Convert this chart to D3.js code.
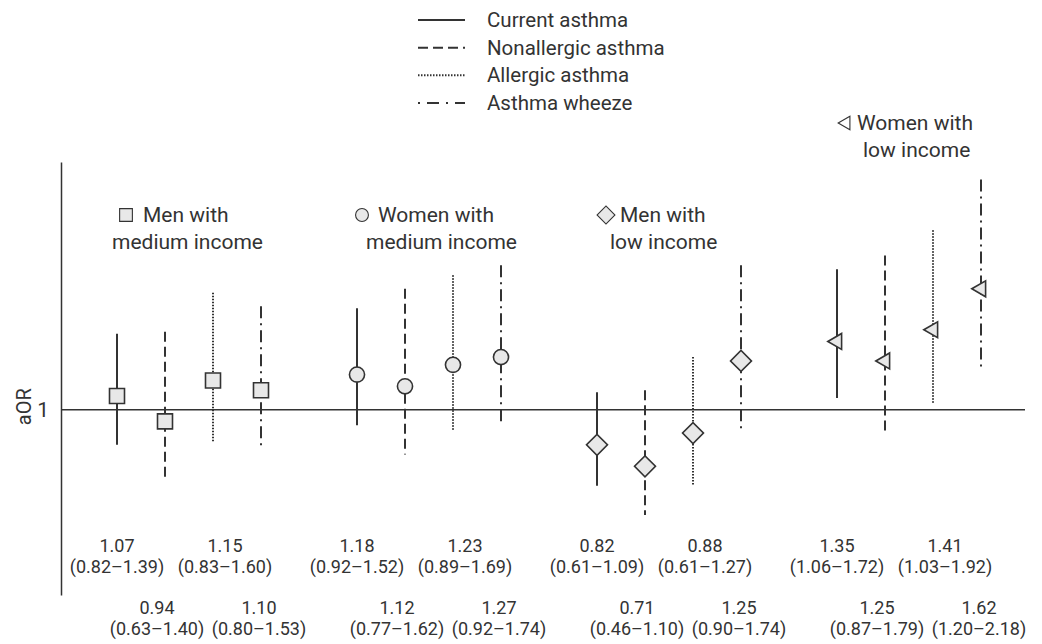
<!DOCTYPE html>
<html>
<head>
<meta charset="utf-8">
<script src="https://cdn.jsdelivr.net/npm/d3@7"></script>
<style>
  body { margin: 0; background: #fff; }
  text { font-family: Roboto, "Noto Sans", sans-serif; fill: #333; }
</style>
</head>
<body>
<div id="chart"></div>
<script>
// groups (income x sex) and outcomes
const groupLine1 = ["Men with", "Women with", "Men with", "Women with"];
const groupLine2 = ["medium income", "medium income", "low income", "low income"];
const groupShapes = ["square", "circle", "diamond", "triangle"];
const outcomes = ["Current asthma", "Nonallergic asthma", "Allergic asthma", "Asthma wheeze"];

// aOR and 95% CI, one row per group, outcome order as above
const aor    = [[1.07, 0.94, 1.15, 1.10], [1.18, 1.12, 1.23, 1.27], [0.82, 0.71, 0.88, 1.25], [1.35, 1.25, 1.41, 1.62]];
const ciLow  = [[0.82, 0.63, 0.83, 0.80], [0.92, 0.77, 0.89, 0.92], [0.61, 0.46, 0.61, 0.90], [1.06, 0.87, 1.03, 1.20]];
const ciHigh = [[1.39, 1.40, 1.60, 1.53], [1.52, 1.62, 1.69, 1.74], [1.09, 1.10, 1.27, 1.74], [1.72, 1.79, 1.92, 2.18]];
const yTicks = [1];

const width = 1042, height = 644;

const svg = d3.select("#chart")
  .append("svg")
  .attr("width", width)
  .attr("height", height);

// flatten to one row per estimate
const rows = [];
aor.forEach((g, gi) => g.forEach((v, si) => {
  rows.push({g: gi, s: si, i: gi * 5 + si, v: v, lo: ciLow[gi][si], hi: ciHigh[gi][si]});
}));

// scales
const x = d3.scaleLinear().domain([0, 18]).range([117, 981]);
const y = d3.scaleLinear().domain([0.05, 2.27]).range([595, 162]);

const ink = "#333";
const dashes = [null, "10,5", "1.5,1.5", "12,5,2,5"];
const widths = [2, 2, 2, 2];

// y axis
const yAxis = svg.append("g")
  .attr("transform", "translate(61,0)")
  .call(d3.axisLeft(y).tickValues(yTicks).tickSize(0).tickSizeOuter(0).tickPadding(12).tickFormat(d3.format("d")));
yAxis.select(".domain").attr("stroke", ink).attr("stroke-width", 1.5);
yAxis.selectAll("text").style("font-size", "21px").style("font-family", "Roboto, sans-serif").attr("fill", ink);

svg.append("text")
  .attr("transform", "translate(31," + (y(1) - 3) + ") rotate(-90)")
  .attr("text-anchor", "middle")
  .style("font-size", "20px")
  .text("aOR");

// reference line at aOR = 1
svg.append("line")
  .attr("x1", 61).attr("x2", 1025)
  .attr("y1", y(1)).attr("y2", y(1))
  .attr("stroke", ink).attr("stroke-width", 1.5);

// CI bars
svg.append("g").selectAll("line")
  .data(rows)
  .join("line")
    .attr("x1", d => x(d.i)).attr("x2", d => x(d.i))
    .attr("y1", d => y(d.hi)).attr("y2", d => y(d.lo))
    .attr("stroke", ink)
    .attr("stroke-width", d => widths[d.s])
    .attr("stroke-dasharray", d => dashes[d.s]);

// markers
const shapePath = {
  square: d3.symbol(d3.symbolSquare, 225)(),
  circle: d3.symbol(d3.symbolCircle, 180)(),
  diamond: d3.symbol(d3.symbolSquare, 220)(),
  triangle: d3.symbol(d3.symbolTriangle, 110)()
};
const shapeRot = {square: 0, circle: 0, diamond: 45, triangle: -90};

function marker(sel, shape) {
  sel.attr("d", shapePath[shape])
    .attr("fill", "#e8e8e8")
    .attr("stroke", ink)
    .attr("stroke-width", 1.6);
}

svg.append("g").selectAll("path")
  .data(rows)
  .join("path")
    .attr("transform", d => "translate(" + x(d.i) + "," + y(d.v) + ") rotate(" + shapeRot[groupShapes[d.g]] + ")")
    .each(function(d) { marker(d3.select(this), groupShapes[d.g]); });

// estimate labels under the plot
const fmt = d3.format(".2f");
const labelShift = [0, -8, 12, -2];
const labelRowY = [[552, 573], [614, 635]];
const labels = svg.append("g").selectAll("g")
  .data(rows)
  .join("g")
    .attr("transform", d => "translate(" + (x(d.i) + labelShift[d.s]) + ",0)");
labels.append("text")
  .attr("y", d => labelRowY[d.s % 2][0])
  .attr("text-anchor", "middle")
  .style("font-size", "18px")
  .text(d => fmt(d.v));
labels.append("text")
  .attr("y", d => labelRowY[d.s % 2][1])
  .attr("text-anchor", "middle")
  .style("font-size", "18px")
  .text(d => "(" + fmt(d.lo) + "\u2013" + fmt(d.hi) + ")");

// group labels
const groupPos = [
  {sx: 126, t1: 143, t2: 112, y: 215},
  {sx: 362, t1: 378, t2: 366, y: 215},
  {sx: 606, t1: 620, t2: 610, y: 215},
  {sx: 846, t1: 857, t2: 863, y: 123}
];
const glab = svg.append("g").selectAll("g")
  .data(groupLine1)
  .join("g");
glab.append("path")
  .attr("transform", (d, i) => "translate(" + groupPos[i].sx + "," + groupPos[i].y + ") rotate(" + shapeRot[groupShapes[i]] + ") scale(0.85)")
  .each(function(d, i) { marker(d3.select(this), groupShapes[i]); })
  .attr("fill", (d, i) => i === 3 ? "#fff" : "#e8e8e8")
  .attr("stroke-width", 1.3);
glab.append("text")
  .attr("x", (d, i) => groupPos[i].t1)
  .attr("y", (d, i) => groupPos[i].y + 7)
  .style("font-size", "21px")
  .text(d => d);
glab.append("text")
  .attr("x", (d, i) => groupPos[i].t2)
  .attr("y", (d, i) => groupPos[i].y + 34)
  .style("font-size", "21px")
  .text((d, i) => groupLine2[i]);

// legend
const legendY = d3.scalePoint().domain(outcomes).range([20, 103]);
const legend = svg.append("g").selectAll("g")
  .data(outcomes)
  .join("g")
    .attr("transform", d => "translate(0," + legendY(d) + ")");
legend.append("line")
  .attr("x1", 418).attr("x2", 465)
  .attr("stroke", ink)
  .attr("stroke-width", (d, i) => widths[i])
  .attr("stroke-dasharray", (d, i) => i === 3 ? "2,7,12,7" : dashes[i]);
legend.append("text")
  .attr("x", 487)
  .attr("y", 7)
  .style("font-size", "20.5px")
  .text(d => d);
</script>
</body>
</html>
